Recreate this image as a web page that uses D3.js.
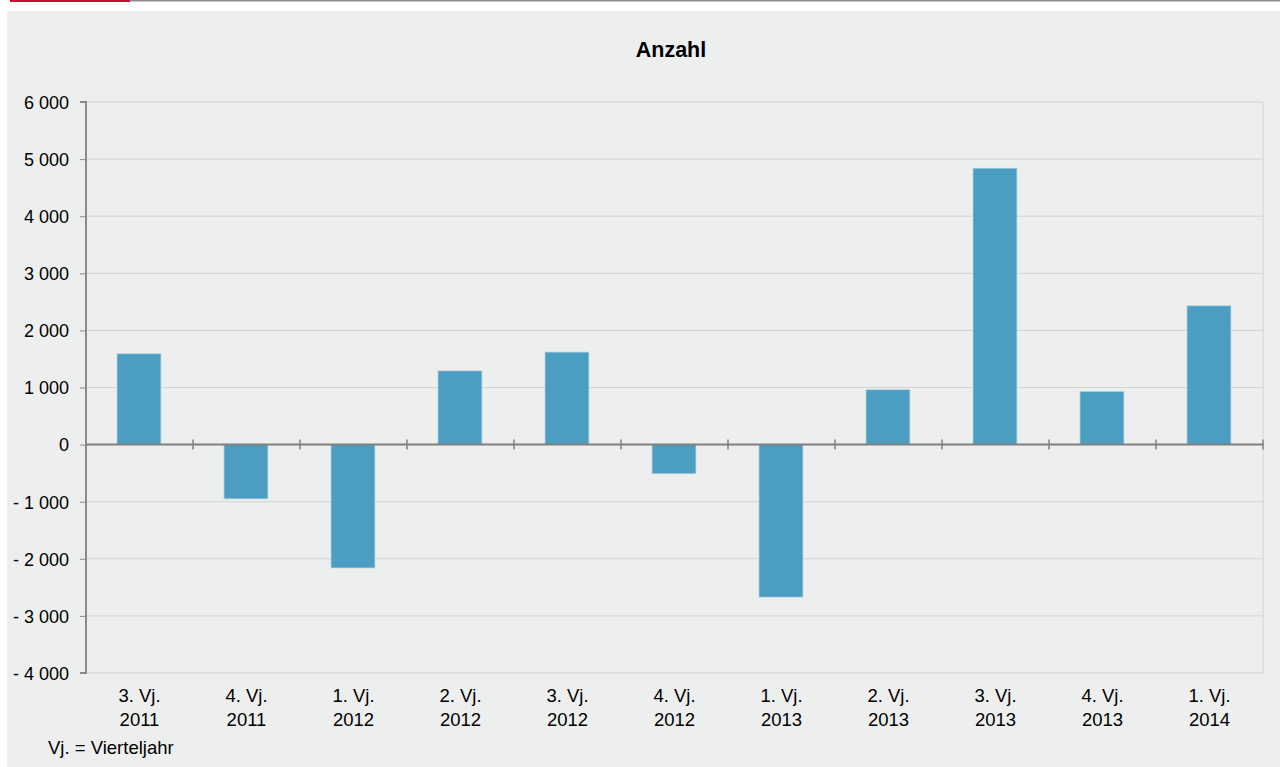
<!DOCTYPE html>
<html><head><meta charset="utf-8">
<script src="https://cdn.jsdelivr.net/npm/d3@7"></script>
<style>body{margin:0;background:#fff;}svg{display:block;font-family:"Liberation Sans",Arial,sans-serif;}</style>
</head><body><svg id="c" width="1280" height="767"></svg>
<script>
const categories = [["3. Vj.","2011"],["4. Vj.","2011"],["1. Vj.","2012"],["2. Vj.","2012"],["3. Vj.","2012"],["4. Vj.","2012"],["1. Vj.","2013"],["2. Vj.","2013"],["3. Vj.","2013"],["4. Vj.","2013"],["1. Vj.","2014"]];
const values = [1590, -950, -2160, 1290, 1620, -510, -2670, 960, 4840, 930, 2430];
const yTicks = [-4000,-3000,-2000,-1000,0,1000,2000,3000,4000,5000,6000];
const title = "Anzahl";
const note = "Vj. = Vierteljahr";

const svg = d3.select("#c");
svg.append("rect").attr("x",7).attr("y",11).attr("width",1273).attr("height",756).attr("fill","#edeeee");
svg.append("rect").attr("x",130).attr("y",0).attr("width",1150).attr("height",1.5).attr("fill","#8a8a8a");
svg.append("rect").attr("x",10).attr("y",0).attr("width",120).attr("height",2).attr("fill","#c8102e");

const L=86,R=1263,T=102,B=673;
const keys = categories.map((c,i)=>i);
const x = d3.scaleBand().domain(keys).range([L,R]).paddingInner(0).paddingOuter(0);
const y = d3.scaleLinear().domain([-4000,6000]).range([B,T]);
const fmt = v => (v<0?"- ":"") + d3.format(",")(Math.abs(v)).replace(/,/g," ");

svg.append("g").selectAll("line").data(yTicks).join("line")
  .attr("x1",L).attr("x2",R).attr("y1",d=>y(d)).attr("y2",d=>y(d))
  .attr("stroke","#d2d3d3").attr("stroke-width",1);
svg.append("line").attr("x1",R).attr("x2",R).attr("y1",T).attr("y2",B).attr("stroke","#d2d3d3");

svg.append("g").selectAll("rect").data(values).join("rect")
  .attr("x",(d,i)=>x(i)+x.bandwidth()*0.29)
  .attr("width",x.bandwidth()*0.41)
  .attr("y",d=>y(Math.max(0,d)))
  .attr("height",d=>Math.abs(y(d)-y(0)))
  .attr("fill","#4b9ec1").attr("stroke","#a9d0e0").attr("stroke-width",0.7);

const ya = d3.axisLeft(y).tickValues(yTicks).tickSize(6).tickPadding(10).tickFormat(fmt);
const gy = svg.append("g").attr("transform",`translate(${L},0)`).call(ya);
gy.attr("font-family",null).attr("font-size",null);
gy.select(".domain").attr("stroke","#8a8a8a").attr("stroke-width",2).attr("d",`M-6,${T}H0V${B}H-6`);
gy.selectAll(".tick line").attr("stroke","#8a8a8a");
gy.selectAll("text").attr("font-size",18).attr("fill","#000").attr("dy","0.35em").attr("x",-17);

svg.append("line").attr("x1",L).attr("x2",R).attr("y1",y(0)).attr("y2",y(0)).attr("stroke","#808080").attr("stroke-width",2);
svg.append("g").selectAll("line").data(d3.range(1,categories.length+1)).join("line")
  .attr("x1",i=>i<categories.length? x(i): R).attr("x2",i=>i<categories.length? x(i): R)
  .attr("y1",y(0)-5).attr("y2",y(0)+5).attr("stroke","#808080").attr("stroke-width",1.5);

const gx = svg.append("g");
categories.forEach((c,i)=>{
  const cx = x(i)+x.bandwidth()/2;
  const t = gx.append("text").attr("x",cx).attr("y",702).attr("text-anchor","middle").attr("font-size",18.5).attr("fill","#000");
  t.append("tspan").attr("x",cx).text(c[0]);
  t.append("tspan").attr("x",cx).attr("dy",23.5).text(c[1]);
});

svg.append("text").attr("x",671).attr("y",57).attr("text-anchor","middle").attr("font-size",21.5).attr("font-weight","bold").text(title);
svg.append("text").attr("x",48).attr("y",754).attr("font-size",18.5).text(note);
</script></body></html>
